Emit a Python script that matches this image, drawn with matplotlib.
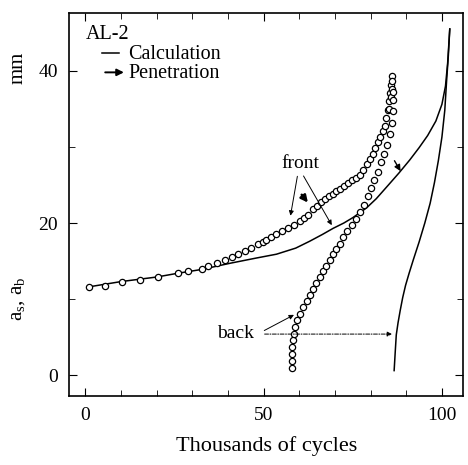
import matplotlib.pyplot as plt

plt.rcParams['font.family'] = ['Liberation Serif', 'DejaVu Serif']
plt.rcParams['mathtext.fontset'] = 'custom'
plt.rcParams['mathtext.rm'] = 'Liberation Serif'
plt.rcParams['mathtext.it'] = 'Liberation Serif'

# 計算曲線 (front / back)
calc_front_x = [0.9, 10, 20, 26, 32.7, 40.5, 48, 53.6, 59, 62.9, 66.5, 69.5, 72.5, 75, 78.9,
                81.6, 85, 88, 91, 93.6, 96, 98.3, 100, 101, 101.6, 102, 102.2]
calc_front_y = [11.6, 12.3, 12.9, 13.4, 13.9, 14.7, 15.4, 15.9, 16.7, 17.6, 18.5, 19.3, 20.0,
                20.7, 22.0, 23.2, 25.0, 26.6, 28.3, 29.9, 31.5, 33.4, 35.6, 38.0, 41.0, 44.0,
                45.5]
calc_back_x = [86.6, 86.9, 87.2, 87.7, 88.3, 89.0, 89.8, 90.8, 92.0, 93.6, 95.2, 96.7, 97.9,
               99.0, 100.0, 100.8, 101.3, 101.8, 102.2]
calc_back_y = [0.6, 3.0, 5.3, 6.9, 8.5, 10.2, 11.8, 13.4, 15.2, 17.5, 20.0, 22.6, 25.3,
               28.2, 31.3, 34.8, 38.6, 42.0, 45.5]

# 穿透量測 (圓點)
pen_front_x = [0.9, 5.4, 10.4, 15.4, 20.4, 26.0, 28.9, 32.7, 34.4, 36.9, 39.2, 41.1, 42.9, 44.7,
               46.6, 48.5, 49.7, 50.8, 52.2, 53.6, 55.2, 56.8, 58.5, 60.2, 61.3, 62.4, 63.9,
               65.0, 66.1, 67.2, 68.3, 69.4, 70.4, 71.4, 72.5, 73.6, 74.7, 75.8, 77.0, 78.0,
               78.9, 79.8, 80.6, 81.3, 82.0, 82.7, 83.4, 84.0, 84.4, 84.9, 85.1, 85.4, 85.7,
               86.0, 85.2, 85.6, 85.9, 86.1]
pen_front_y = [11.6, 11.7, 12.3, 12.5, 12.9, 13.4, 13.7, 13.9, 14.3, 14.7, 15.1, 15.5, 15.9, 16.3,
               16.7, 17.3, 17.5, 17.8, 18.1, 18.5, 18.9, 19.4, 19.8, 20.3, 20.7, 21.1, 21.9,
               22.3, 22.7, 23.1, 23.5, 23.8, 24.2, 24.5, 24.9, 25.2, 25.6, 25.9, 26.3, 27.0,
               27.7, 28.4, 29.1, 29.9, 30.6, 31.3, 32.1, 32.8, 33.8, 34.9, 36.0, 37.1, 38.2,
               39.3, 35.0, 36.6, 37.6, 38.7]
pen_back_x = [57.9, 57.9, 57.9, 57.9, 58.2, 58.4, 58.7, 59.3, 60.2, 61.1, 62.1, 63.0, 63.9, 64.8,
              65.7, 66.7, 67.6, 68.5, 69.5, 70.4, 71.4, 72.3, 73.5, 74.7, 75.8, 77.0, 78.2,
              79.3, 80.1, 81.0, 82.0, 82.9, 83.8, 84.6, 85.3, 86.0, 86.2, 86.3, 86.3]
pen_back_y = [0.9, 1.8, 2.8, 3.7, 4.6, 5.4, 6.3, 7.2, 8.1, 9.0, 9.8, 10.6, 11.3, 12.1, 12.9,
              13.7, 14.4, 15.2, 15.9, 16.6, 17.3, 18.1, 18.9, 19.7, 20.5, 21.5, 22.4, 23.5,
              24.6, 25.6, 26.7, 28.0, 29.1, 30.2, 31.7, 33.2, 34.7, 36.2, 37.2]

fig = plt.figure(figsize=(4.68, 4.65), dpi=100)
ax = fig.add_axes([0.148, 0.149, 0.842, 0.823])

ax.plot(calc_front_x, calc_front_y, color='black', lw=1.1)
ax.plot(calc_back_x, calc_back_y, color='black', lw=1.1)
ax.plot(pen_front_x, pen_front_y, linestyle='none', marker='o', ms=4.5,
        mfc='white', mec='black', mew=0.9)
ax.plot(pen_back_x, pen_back_y, linestyle='none', marker='o', ms=4.5,
        mfc='white', mec='black', mew=0.9)

ax.set_xlim(-4.5, 106)
ax.set_ylim(-2.7, 47.6)
ax.set_xticks([0, 50, 100])
ax.set_xticks(range(0, 101, 10), minor=True)
ax.set_yticks([0, 20, 40])
ax.set_yticks([10, 30], minor=True)
ax.tick_params(direction='in', which='both', top=True, right=True, labelsize=14, pad=8)
ax.tick_params(which='major', length=6)
ax.tick_params(which='minor', length=4)
for s in ax.spines.values():
    s.set_linewidth(1.2)

ax.set_xlabel('Thousands of cycles', fontsize=16, labelpad=9)
fig.text(0.038, 0.357, r'a$_\mathrm{s}$, a$_\mathrm{b}$', rotation=90, fontsize=15,
         ha='center', va='center')
fig.text(0.038, 0.853, 'mm', rotation=90, fontsize=15, ha='center', va='center')

# 圖例文字
ax.text(0.0, 44.8, 'AL-2', fontsize=14.5, va='center')
ax.text(12.0, 42.2, 'Calculation', fontsize=14.5, va='center')
ax.text(12.0, 39.7, 'Penetration', fontsize=14.5, va='center')
ax.plot([4.8, 9.4], [42.3, 42.3], color='black', lw=1.1)
ax.annotate('', xy=(11.6, 39.8), xytext=(4.8, 39.8),
            arrowprops=dict(arrowstyle='-|>', color='black', lw=1.4, mutation_scale=10))

# 標註
ax.text(60.2, 27.8, 'front', fontsize=14, ha='center', va='center')
thin = dict(arrowstyle='-|>', color='black', lw=0.7, mutation_scale=7)
ax.annotate('', xy=(57.4, 20.6), xytext=(59.6, 26.5), arrowprops=thin)
ax.annotate('', xy=(69.5, 19.4), xytext=(60.8, 26.5), arrowprops=thin)
bold = dict(arrowstyle='-|>', color='black', lw=1.8, mutation_scale=10)
ax.annotate('', xy=(62.9, 22.4), xytext=(60.2, 24.0), arrowprops=bold)
ax.annotate('', xy=(88.8, 26.5), xytext=(86.3, 28.5), arrowprops=dict(
    arrowstyle='-|>', color='black', lw=1.0, mutation_scale=9))

ax.text(42.0, 5.5, 'back', fontsize=14, ha='center', va='center')
ax.annotate('', xy=(59.2, 8.1), xytext=(49.5, 5.7), arrowprops=thin)
ax.annotate('', xy=(86.8, 5.4), xytext=(49.5, 5.4),
            arrowprops=dict(arrowstyle='-|>', color='black', lw=0.7, mutation_scale=7,
                            linestyle=(0, (4, 1.5, 1, 1.5))))

plt.savefig('out.png', dpi=100)
